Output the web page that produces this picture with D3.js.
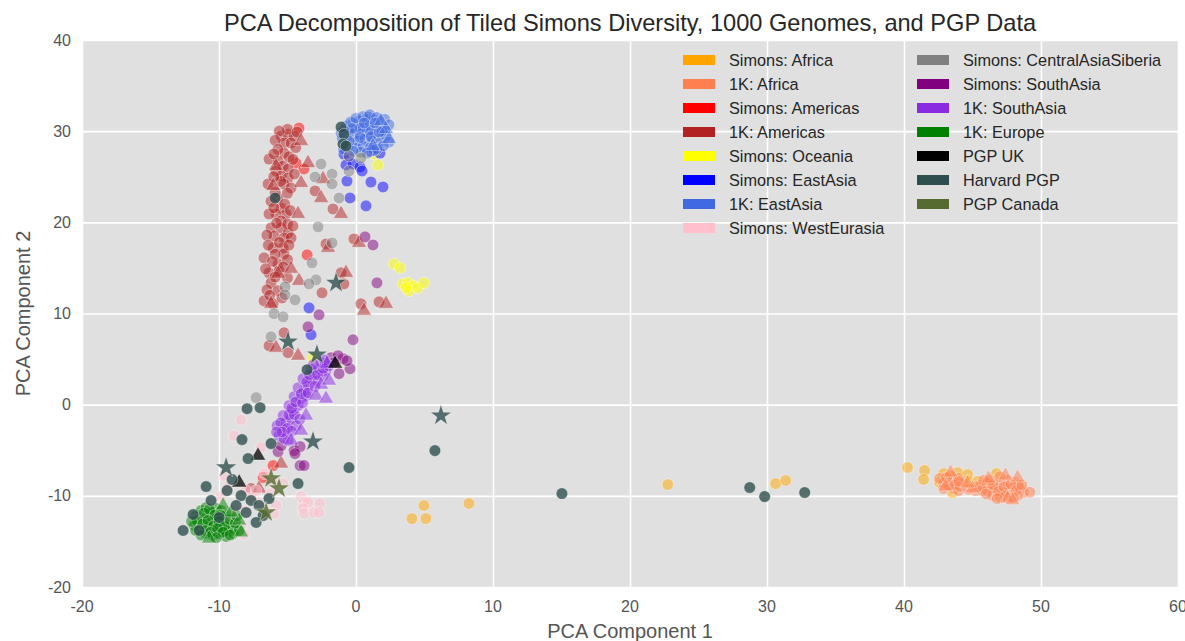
<!DOCTYPE html>
<html>
<head>
<meta charset="utf-8">
<script src="https://cdn.jsdelivr.net/npm/d3@7"></script>
<style>
  body { margin: 0; background: #fff; }
  text { font-family: "Liberation Sans", Arial, sans-serif; }
</style>
</head>
<body>
<svg id="chart" width="1185" height="641"></svg>
<script>
// values, [PC1, PC2]
var xTicks = [-20, -10, 0, 10, 20, 30, 40, 50, 60];
var yTicks = [-20, -10, 0, 10, 20, 30, 40];

var simonsAfrica = [[4.08,-12.5],[4.96,-11.06],[5.1,-12.5],[8.24,-10.84],[22.76,-8.76],[30.63,-8.65],[31.36,-8.32],
  [40.26,-6.9],[41.5,-7.23],[41.43,-8.21],[42.89,-7.56],[42.6,-8.54],[43.91,-7.45],[44.64,-7.67],[44.64,-8.32],
  [45.37,-8.43],[46.75,-7.56],[46.1,-8.65],[43.55,-9.64]];

var k1Africa = [[42.89,-8.54],[43.62,-8.32],[43.62,-9.2],[44.35,-8.65],[42.89,-9.2],[43.4,-7.78],[43.98,-8.1],
  [45.95,-8.54],[46.32,-9.2],[46.68,-9.09],[47.05,-8.54],[47.56,-8.32],[47.63,-9.2],[48.0,-9.09],[48.14,-8.54],
  [48.5,-9.2],[48.72,-9.64],[47.26,-9.64],[47.05,-9.75],[46.1,-9.42],[45.59,-8.87],[47.77,-9.97],[48.29,-9.97],
  [46.46,-9.97],[47.05,-10.19],[49.2,-9.6],[43.25,-8.87],[43.98,-9.42],[42.6,-8.1],[45.22,-9.42],[48.36,-8.87],
  [43.1,-8.0],[43.7,-8.8],[44.1,-9.0],[44.7,-9.3],[45.3,-9.0],[45.7,-9.4],[46.0,-9.8],[46.5,-8.8],[46.9,-9.5],
  [47.3,-9.0],[47.8,-8.7],[48.2,-9.4],[47.4,-10.0],[46.8,-10.3],[48.0,-10.2],[45.8,-8.3],[44.0,-8.4],[48.6,-8.8],
  [46.3,-8.3],[47.0,-7.9]];
var k1AfricaTri = [[45.0,-9.2],[48.29,-8.0],[43.4,-7.45],[47.56,-10.3],[47.92,-10.5],[46.17,-8.1],[44.64,-8.65],[43.03,-8.98],[47.41,-7.78]];

var simonsAmericas = [[-4.16,30.34],[-4.38,26.5],[-3.8,25.85],[-3.57,16.43],[-6.05,-6.68],[-6.78,-8.0]];

var k1Americas = [[-5.47,29.46],[-4.96,29.68],[-4.52,29.46],[-5.25,28.7],[-4.74,28.7],[-5.25,27.6],[-6.35,26.94],
  [-5.69,26.72],[-5.32,26.18],[-5.84,25.63],[-4.96,25.85],[-5.47,25.08],[-4.96,24.86],[-5.25,24.21],[-4.74,23.77],
  [-6.42,24.21],[-5.69,22.67],[-5.47,21.58],[-5.11,20.92],[-5.84,20.92],[-6.35,20.92],[-5.47,20.15],[-6.2,19.39],
  [-5.47,19.39],[-4.96,18.84],[-5.98,18.51],[-5.25,18.29],[-4.74,18.29],[-5.32,17.2],[-6.05,17.2],[-6.71,16.1],
  [-5.25,16.54],[-5.69,15.44],[-6.35,14.46],[-5.62,14.68],[-6.2,13.36],[-6.71,11.39],[-6.05,11.06],[-0.15,18.18],
  [-2.19,17.63],[-2.99,23.44],[-1.68,21.47],[-1.09,14.46],[-0.88,13.25],[-2.48,12.27],[0.36,11.06],[1.68,11.28],
  [-6.35,6.46],[-4.96,5.7],[-5.25,7.89],[-7.66,-9.2],
  [-5.0,30.2],[-5.6,30.0],[-4.3,29.9],[-5.9,29.0],[-4.4,28.2],[-5.7,28.0],[-4.9,27.2],[-6.0,27.5],[-4.6,26.9],
  [-5.5,24.5],[-6.0,25.0],[-4.5,25.3],[-5.9,23.3],[-5.0,23.2],[-6.2,22.3],[-5.2,22.0],[-4.8,21.3],[-6.0,21.6],
  [-5.0,19.8],[-5.8,19.9],[-4.6,19.6],[-6.5,18.6],[-5.6,17.8],[-4.9,17.5],[-6.4,17.5],[-5.9,16.5],[-5.0,15.9],
  [-6.1,15.7],[-5.3,15.1],[-6.6,14.9],[-5.9,14.0],[-5.0,13.9],[-6.5,12.6],[-5.7,12.5],[-6.3,12.0],[-5.4,11.7]];
var k1AmericasTri = [[-4.01,28.92],[-3.5,26.5],[-5.84,26.18],[-4.01,24.32],[-2.41,24.75],[-2.55,22.67],[-1.09,20.92],
  [-4.23,20.92],[-6.05,23.99],[-4.74,14.9],[-4.16,13.58],[-0.73,14.46],[0.22,17.74],[-2.04,17.2],[-5.69,14.35],
  [-6.2,11.06],[2.19,11.06],[0.58,10.3],[-5.84,6.24],[-4.23,5.37],[-5.47,-6.46],[-7.08,-9.2]];

var simonsOceania = [[2.77,15.44],[3.21,15.0],[3.43,13.25],[3.79,13.36],[4.16,13.03],[3.87,12.49],[4.52,12.81],
  [4.96,13.36],[3.65,12.81],[1.6,26.29],[1.31,27.49],[0.36,27.6],[-3.14,5.15]];

var simonsEastAsia = [[-0.88,27.49],[-0.51,27.27],[-0.73,26.29],[-0.22,26.4],[0.29,26.07],[0.44,25.63],[1.09,24.42],
  [1.97,23.88],[-0.66,24.53],[-0.44,22.67],[0.73,21.8],[1.75,27.6],[1.09,27.82],[-3.43,10.62],[-3.28,7.67]];

var k1EastAsia = [[-0.73,30.56],[-0.22,30.89],[0.22,31.11],[0.73,31.22],[1.24,31.33],[1.68,31.0],[-0.51,30.01],
  [0,30.23],[0.51,30.45],[1.02,30.67],[1.53,30.45],[2.04,30.23],[-0.73,29.46],[-0.22,29.68],[0.29,29.68],
  [0.8,29.9],[1.31,29.68],[1.82,29.46],[-0.36,28.7],[0.15,28.92],[0.66,29.13],[1.17,28.92],[1.68,28.7],
  [0,28.15],[0.51,28.37],[1.02,28.15],[1.53,28.04],[-1.09,29.79],[2.19,29.46],[0.36,27.71],[-0.58,28.26],[0.88,31.55],
  [-0.4,31.0],[0.0,31.4],[0.5,31.6],[1.0,31.8],[1.5,31.5],[2.1,31.3],[2.4,30.7],[1.9,30.0],[1.0,30.1],[0.3,30.3],
  [-0.3,30.3],[-0.9,30.1],[-1.0,29.2],[-0.5,28.9],[0.3,29.3],[1.1,29.4],[1.7,29.9],[2.4,28.8],[2.0,28.4],[1.3,27.9],
  [0.8,27.6],[-0.2,27.8],[-0.9,28.0],[0.6,30.9],[1.4,30.9]];
var k1EastAsiaTri = [[2.41,29.13],[2.19,30.23],[1.24,28.37],[1.82,31.11]];

var simonsWestEurasia = [[-8.39,-1.64],[-8.9,-3.4],[-6.93,-4.71],[-9.63,-7.78],[-9.34,-9.09],[-9.85,-10.08],
  [-6.71,-7.56],[-5.98,-8.65],[-5.32,-8.65],[-6.2,-9.75],[-5.84,-11.06],[-5.98,-11.94],[-4.01,-10.08],[-3.79,-10.73],
  [-3.5,-10.73],[-3.87,-11.39],[-3.79,-11.94],[-3.06,-11.83],[-2.63,-10.84],[-2.7,-11.83],[-8.17,-11.61],
  [-8.39,-13.25],[-8.17,-14.24],[-8.9,-11.39],[-7.66,-10.19],[-7.15,-10.73],[-8.97,-12.38],[-8.02,-9.42],
  [-7.29,-9.42],[-6.78,-11.61]];

var simonsCentralAsia = [[-2.55,26.4],[-1.75,25.3],[-2.99,24.97],[-1.75,24.21],[-1.24,22.67],[-2.77,19.5],
  [-1.75,17.74],[-3.21,15.55],[-2.92,13.69],[-3.43,13.25],[-5.18,12.92],[-5.18,12.05],[-4.45,11.5],[-5.98,9.97],
  [-5.32,9.64],[-6.2,7.45],[-7.29,0.77],[-0.51,25.63],[0.36,27.05],[-0.51,27.27]];

var simonsSouthAsia = [[0.66,18.4],[1.24,17.52],[1.53,13.36],[-2.7,9.86],[-3.5,8.54],[-0.22,7.12],[-0.44,3.94],
  [-1.24,3.4],[-0.95,5.04],[-1.82,5.15],[-1.31,5.37],[-1.6,4.6],[-0.66,4.82],[-5.69,-5.15],[-5.47,-4.49],
  [-4.52,-5.04],[-4.08,-4.6],[-4.45,-5.37],[-4.08,-6.68],[-3.79,-6.68]];

var k1SouthAsia = [[-5.62,-3.4],[-5.25,-2.85],[-5.76,-2.3],[-5.11,-1.97],[-4.74,-1.53],[-5.32,-1.2],[-4.6,-0.66],
  [-4.23,-0.11],[-4.89,-0.11],[-4.01,0.66],[-4.52,0.88],[-3.79,1.53],[-4.23,1.86],[-3.5,2.08],[-3.28,2.85],
  [-3.87,2.85],[-3.06,3.5],[-2.7,3.94],[-3.28,3.94],[-2.55,4.6],[-2.19,3.72],[-2.92,2.63],[-3.65,0.99],
  [-4.38,-2.3],[-4.96,-3.94],[-5.25,-3.72],[-2.41,3.18],[-1.97,4.27],
  [-5.5,-2.0],[-5.0,-2.6],[-5.4,-3.0],[-4.9,-1.1],[-4.5,-1.1],[-4.7,-0.4],[-4.4,0.3],[-3.9,0.2],[-4.0,1.2],
  [-3.5,1.3],[-3.6,2.5],[-3.0,2.0],[-3.4,3.3],[-2.8,3.3],[-2.4,4.0],[-3.1,4.4],[-2.3,4.9],[-4.1,-1.6],[-5.8,-3.0],[-4.7,-2.9]];
var k1SouthAsiaTri = [[-4.01,-2.85],[-3.65,-1.2],[-2.92,0.99],[-2.55,2.19],[-1.97,2.63],[-2.12,4.49],[-4.74,-3.94],[-2.19,0.66]];

var k1Europe = [[-11.67,-12.16],[-11.31,-11.61],[-10.94,-11.28],[-10.58,-11.83],[-10.21,-11.39],[-9.85,-11.61],
  [-9.48,-12.05],[-11.45,-12.92],[-11.01,-12.49],[-10.58,-12.92],[-10.14,-12.38],[-9.7,-12.71],[-9.26,-13.14],
  [-11.31,-13.58],[-10.8,-13.47],[-10.36,-13.8],[-9.92,-13.36],[-9.48,-13.8],[-8.97,-13.58],[-10.94,-14.13],
  [-10.43,-14.35],[-9.99,-14.13],[-9.48,-14.46],[-8.97,-14.13],[-8.53,-13.8],[-11.82,-13.25],
  [-11.1,-11.9],[-10.7,-11.5],[-10.3,-12.1],[-9.9,-12.1],[-11.6,-12.7],[-11.2,-13.1],[-10.8,-12.7],[-10.4,-13.3],
  [-10.0,-12.8],[-9.6,-13.3],[-9.2,-12.6],[-11.7,-13.8],[-11.0,-13.8],[-10.6,-14.0],[-10.1,-13.6],[-9.7,-14.0],
  [-9.2,-14.3],[-8.8,-13.0],[-10.2,-14.6],[-11.3,-14.3],[-12.0,-12.8],[-8.7,-12.2]];
var k1EuropeTri = [[-9.7,-11.06],[-8.53,-12.71],[-9.12,-11.83],[-8.39,-14.02],[-10.72,-14.68]];

var pgpUK = [[-7.15,-5.6],[-8.53,-8.54],[-1.53,4.49]];

var harvardPGP = [[-12.62,-13.8],[-10.94,-8.98],[-7.95,-0.44],[-7.0,-0.33],[-8.32,-3.83],[-6.2,-4.27],[-7.88,-5.91],
  [-9.04,-8.21],[-11.89,-12.05],[-4.23,-8.65],[-0.51,-6.9],[-3.57,3.83],[-1.09,30.45],[-0.88,29.68],[-0.95,28.59],
  [-0.73,28.37],[-5.91,22.67],[5.76,-5.04],[15.03,-9.75],[28.74,-9.09],[29.83,-10.08],[32.75,-9.64],[-10.58,-10.51],
  [-9.99,-12.38],[-8.39,-9.97],[-7.66,-10.51],[-7.08,-11.06],[-8.02,-11.83],[-6.78,-12.16],[-7.29,-12.92],
  [-8.75,-11.06],[-6.35,-10.3],[-9.41,-9.42],[-11.45,-13.8]];
var harvardPGPStar = [[6.2,-1.2],[-3.14,-4.05],[-9.48,-6.9],[-4.96,6.9],[-1.46,13.36],[-2.85,5.48]];

var pgpCanadaStar = [[-6.2,-8.1],[-5.62,-9.2],[-6.56,-11.83]];

// drawing order, legend order
var groups = [
  {label: "Simons: Africa", color: "orange", o: simonsAfrica},
  {label: "1K: Africa", color: "coral", o: k1Africa, t: k1AfricaTri},
  {label: "Simons: Americas", color: "red", o: simonsAmericas},
  {label: "1K: Americas", color: "firebrick", o: k1Americas, t: k1AmericasTri},
  {label: "Simons: Oceania", color: "yellow", o: simonsOceania},
  {label: "Simons: EastAsia", color: "blue", o: simonsEastAsia},
  {label: "1K: EastAsia", color: "royalblue", o: k1EastAsia, t: k1EastAsiaTri},
  {label: "Simons: WestEurasia", color: "pink", o: simonsWestEurasia},
  {label: "Simons: CentralAsiaSiberia", color: "gray", o: simonsCentralAsia},
  {label: "Simons: SouthAsia", color: "purple", o: simonsSouthAsia},
  {label: "1K: SouthAsia", color: "blueviolet", o: k1SouthAsia, t: k1SouthAsiaTri},
  {label: "1K: Europe", color: "green", o: k1Europe, t: k1EuropeTri},
  {label: "PGP UK", color: "black", t: pgpUK, alpha: 0.75},
  {label: "Harvard PGP", color: "darkslategray", o: harvardPGP, s: harvardPGPStar, alpha: 0.8},
  {label: "PGP Canada", color: "darkolivegreen", s: pgpCanadaStar, alpha: 0.8}
];

var svg = d3.select("#chart");
var mLeft = 82, mRight = 1178, mTop = 40, mBottom = 587;

var x = d3.scaleLinear().domain([-20, 60]).range([mLeft, mRight]);
var y = d3.scaleLinear().domain([-20, 40]).range([mBottom, mTop]);

svg.append("rect")
  .attr("x", mLeft).attr("y", mTop)
  .attr("width", mRight - mLeft).attr("height", mBottom - mTop)
  .attr("fill", "#e0e0e0");

// grid
svg.append("g")
  .attr("transform", "translate(0," + mBottom + ")")
  .call(d3.axisBottom(x).tickValues(xTicks).tickSize(-(mBottom - mTop)).tickFormat(""))
  .call(g => g.select(".domain").remove())
  .selectAll("line").attr("stroke", "#fff").attr("stroke-width", 1.6);
svg.append("g")
  .attr("transform", "translate(" + mLeft + ",0)")
  .call(d3.axisLeft(y).tickValues(yTicks).tickSize(-(mRight - mLeft)).tickFormat(""))
  .call(g => g.select(".domain").remove())
  .selectAll("line").attr("stroke", "#fff").attr("stroke-width", 1.6);

// tick labels
svg.append("g").selectAll("text")
  .data(xTicks).enter().append("text")
  .attr("x", d => x(d)).attr("y", mBottom + 25)
  .attr("text-anchor", "middle")
  .attr("font-size", 16).attr("fill", "#555")
  .text(d => d);
svg.append("g").selectAll("text")
  .data(yTicks).enter().append("text")
  .attr("x", mLeft - 11).attr("y", d => y(d) + 5.5)
  .attr("text-anchor", "end")
  .attr("font-size", 16).attr("fill", "#555")
  .text(d => d);

// points
var plot = svg.append("g");
var triangle = d3.symbol().type(d3.symbolTriangle).size(100);
var star = d3.symbol().type(d3.symbolStar).size(140);

groups.forEach(function(g){
  var a = g.alpha || 0.5;
  var layer = plot.append("g");
  if (g.o) layer.selectAll("circle.o").data(g.o).enter().append("circle")
    .attr("cx", d => x(d[0])).attr("cy", d => y(d[1])).attr("r", 5.8)
    .attr("fill", g.color).attr("fill-opacity", a)
    .attr("stroke", "#fff").attr("stroke-opacity", 0.5).attr("stroke-width", 0.8);
  if (g.t) layer.selectAll("path.t").data(g.t).enter().append("path")
    .attr("d", triangle)
    .attr("transform", d => "translate(" + x(d[0]) + "," + y(d[1]) + ")")
    .attr("fill", g.color).attr("fill-opacity", a)
    .attr("stroke", "#fff").attr("stroke-opacity", 0.5).attr("stroke-width", 0.8);
  if (g.s) layer.selectAll("path.s").data(g.s).enter().append("path")
    .attr("d", star)
    .attr("transform", d => "translate(" + x(d[0]) + "," + y(d[1]) + ")")
    .attr("fill", g.color).attr("fill-opacity", a)
    .attr("stroke", "#fff").attr("stroke-opacity", 0.5).attr("stroke-width", 0.8);
});

// legend, two columns
var legend = svg.append("g");
var rows = 8;
groups.forEach(function(g, i){
  var col = Math.floor(i / rows), row = i % rows;
  var lx = col === 0 ? 683 : 917;
  var ly = 60 + row * 24;
  legend.append("rect")
    .attr("x", lx).attr("y", ly - 5)
    .attr("width", 32).attr("height", 10)
    .attr("fill", g.color);
  legend.append("text")
    .attr("x", lx + 46).attr("y", ly + 6)
    .attr("font-size", 16.3).attr("fill", "#262626")
    .text(g.label);
});

// titles
svg.append("text")
  .attr("x", (mLeft + mRight) / 2).attr("y", 31)
  .attr("text-anchor", "middle")
  .attr("font-size", 23.6).attr("fill", "#262626")
  .text("PCA Decomposition of Tiled Simons Diversity, 1000 Genomes, and PGP Data");
svg.append("text")
  .attr("x", (mLeft + mRight) / 2).attr("y", 638)
  .attr("text-anchor", "middle")
  .attr("font-size", 20).attr("fill", "#555")
  .text("PCA Component 1");
svg.append("text")
  .attr("transform", "translate(30," + ((mTop + mBottom) / 2) + ") rotate(-90)")
  .attr("text-anchor", "middle")
  .attr("font-size", 20).attr("fill", "#555")
  .text("PCA Component 2");
</script>
</body>
</html>
